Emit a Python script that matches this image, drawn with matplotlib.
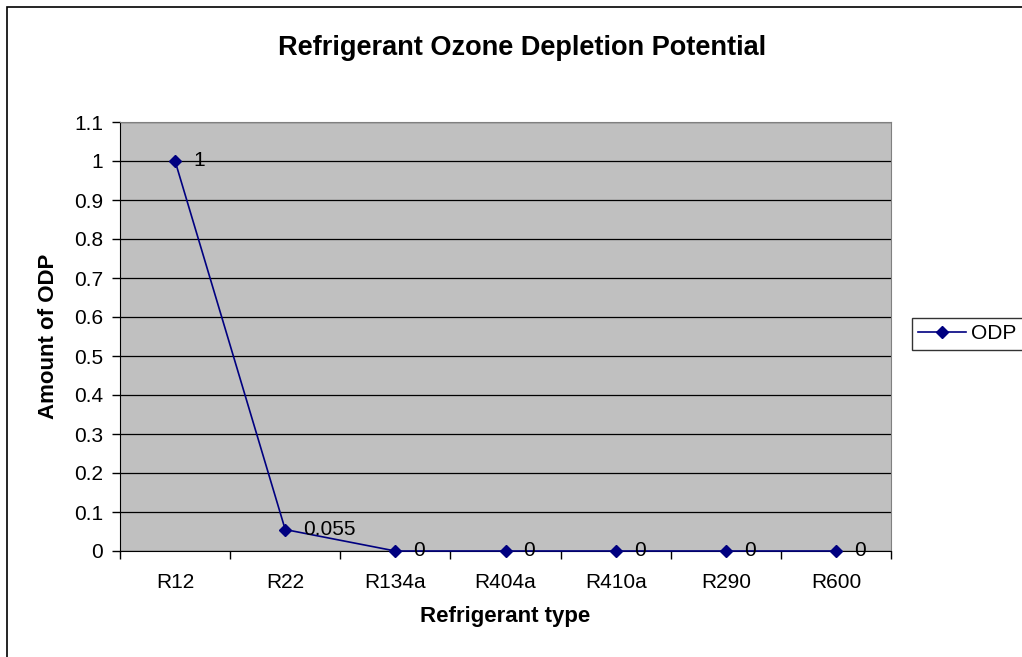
import matplotlib.pyplot as plt
from matplotlib.patches import Rectangle

plt.rcParams['font.family'] = ['Liberation Sans', 'DejaVu Sans']

refrigerants = ["R12", "R22", "R134a", "R404a", "R410a", "R290", "R600"]
odp = [1, 0.055, 0, 0, 0, 0, 0]
odp_labels = ["1", "0.055", "0", "0", "0", "0", "0"]
y_ticks = [0, 0.1, 0.2, 0.3, 0.4, 0.5, 0.6, 0.7, 0.8, 0.9, 1, 1.1]
y_tick_labels = ["0", "0.1", "0.2", "0.3", "0.4", "0.5", "0.6", "0.7", "0.8", "0.9", "1", "1.1"]


def main():
    W, H = 1022, 657
    fig = plt.figure(figsize=(W / 100, H / 100), dpi=100)

    # outer chart border (right/bottom fall off the picture)
    fig.patches.append(Rectangle((7 / W, -0.05), 1.2, 1 - 7 / H + 0.05,
                                 transform=fig.transFigure, fill=False,
                                 edgecolor="black", linewidth=1.2))

    ax = fig.add_axes([120 / W, (H - 551) / H, 771 / W, (551 - 122) / H])
    ax.set_facecolor("#C0C0C0")

    x = list(range(len(refrigerants)))
    line, = ax.plot(x, odp, color="#000080", marker="D", markersize=6.5,
                    linewidth=1.2, label="ODP", clip_on=False, zorder=5)

    for xi, yi, lab in zip(x, odp, odp_labels):
        ax.annotate(lab, (xi, yi), xytext=(13, 0), textcoords="offset points",
                    va="center", ha="left", fontsize=15, zorder=6)

    ax.set_xlim(-0.5, len(refrigerants) - 0.5)
    ax.set_ylim(0, 1.1)
    ax.set_yticks(y_ticks)
    ax.set_yticklabels(y_tick_labels, fontsize=15)
    ax.yaxis.grid(True, color="black", linewidth=0.9)
    ax.set_axisbelow(True)

    ax.set_xticks([i - 0.5 for i in range(len(refrigerants) + 1)])
    ax.set_xticklabels([])
    ax.set_xticks(x, minor=True)
    ax.set_xticklabels(refrigerants, minor=True, fontsize=15)
    ax.tick_params(axis="x", which="major", direction="out", length=6, width=1)
    ax.tick_params(axis="x", which="minor", length=0, pad=16)
    ax.tick_params(axis="y", direction="out", length=6, width=1, pad=6)

    ax.spines["left"].set_color("black")
    ax.spines["bottom"].set_color("black")
    ax.spines["top"].set_color("#808080")
    ax.spines["right"].set_color("#808080")

    ax.set_xlabel("Refrigerant type", fontsize=16, fontweight="bold", labelpad=10)
    ax.set_ylabel("Amount of ODP", fontsize=16, fontweight="bold", labelpad=11)
    fig.text(522 / W, 1 - 48 / H, "Refrigerant Ozone Depletion Potential",
             ha="center", va="center", fontsize=19.5, fontweight="bold")

    leg = fig.legend(handles=[line], loc="upper left",
                     bbox_to_anchor=(912 / W, 1 - 318 / H), fontsize=15,
                     frameon=True, fancybox=False, borderpad=0.3,
                     handlelength=2.3, handletextpad=0.25, borderaxespad=0)
    leg.get_frame().set_edgecolor("black")
    leg.get_frame().set_linewidth(1)

    fig.savefig("out.png", dpi=100)


if __name__ == '__main__':
    main()
